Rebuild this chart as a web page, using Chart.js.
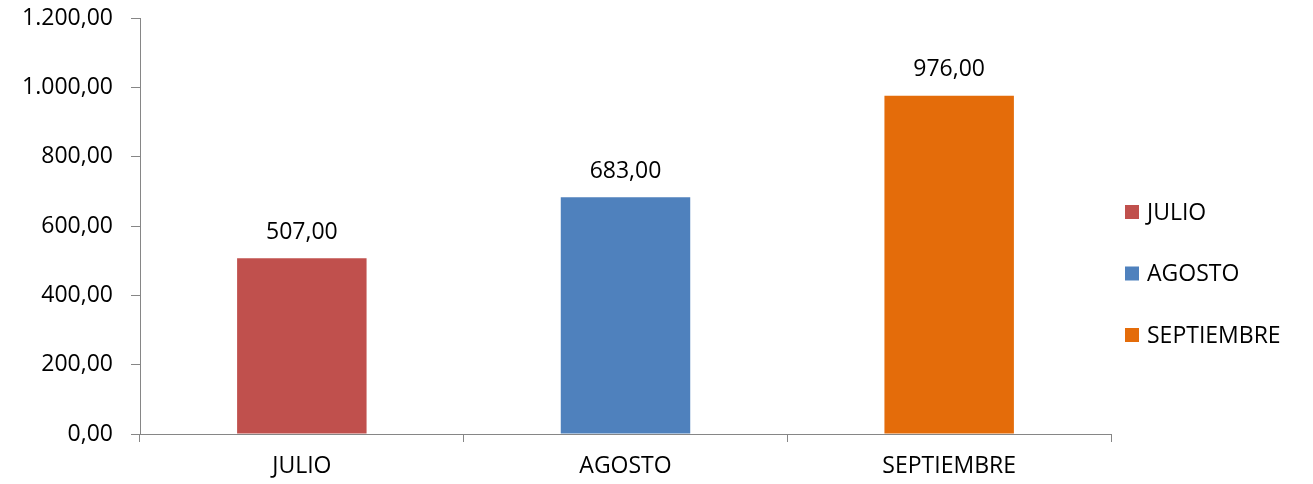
<!DOCTYPE html>
<html lang="es">
<head>
    <meta charset="UTF-8">
    <title>Julio - Septiembre</title>
    <script src="https://cdn.jsdelivr.net/npm/chart.js"></script>
    <style>
        body {
            margin: 0;
            background: #fff;
        }

        #wrap {
            width: 1313px;
            height: 484px;
        }
    </style>
</head>
<body>
    <div id="wrap">
        <canvas id="chart" width="1313" height="484"></canvas>
    </div>

    <script>
    // Datos del grafico
    const meses = ['JULIO', 'AGOSTO', 'SEPTIEMBRE'];
    const valores = [507, 683, 976];
    const colores = ['#C0504D', '#4F81BD', '#E46C0A'];
    const yMin = 0;
    const yMax = 1200;
    const yPaso = 200;

    const fuente = { family: '"Open Sans", sans-serif', size: 23 };
    const gris = '#868686';

    function formato(v) {
        return v.toLocaleString('de-DE', { minimumFractionDigits: 2, maximumFractionDigits: 2 });
    }

    // Etiquetas de valor encima de cada barra
    const etiquetasValor = {
        id: 'etiquetasValor',
        afterDatasetsDraw(chart) {
            const ctx = chart.ctx;
            const meta = chart.getDatasetMeta(0);
            ctx.save();
            ctx.font = fuente.size + 'px ' + fuente.family;
            ctx.fillStyle = '#000';
            ctx.textAlign = 'center';
            ctx.textBaseline = 'middle';
            meta.data.forEach(function(bar, i) {
                ctx.fillText(formato(valores[i]), bar.x, bar.y - 26);
            });
            ctx.restore();
        }
    };

    // Leyenda a la derecha (un cuadro por mes)
    const leyenda = {
        id: 'leyenda',
        afterDraw(chart) {
            const ctx = chart.ctx;
            const x = chart.chartArea.right + 14;
            const y0 = 212;
            const paso = 61.5;
            ctx.save();
            ctx.font = fuente.size + 'px ' + fuente.family;
            ctx.textAlign = 'left';
            ctx.textBaseline = 'middle';
            meses.forEach(function(m, i) {
                const y = y0 + i * paso;
                ctx.fillStyle = colores[i];
                ctx.fillRect(x, y - 7, 14, 14);
                ctx.fillStyle = '#000';
                ctx.fillText(m, x + 22, y + 1);
            });
            ctx.restore();
        }
    };

    const config = {
        type: 'bar',
        data: {
            labels: meses,
            datasets: [{
                label: 'Total',
                data: valores,
                backgroundColor: colores,
                borderWidth: 0,
                barPercentage: 0.4,
                categoryPercentage: 1.0
            }]
        },
        options: {
            responsive: false,
            animation: false,
            layout: {
                padding: { top: 18, right: 202, bottom: 0, left: 0 }
            },
            plugins: {
                legend: { display: false },
                tooltip: { enabled: false }
            },
            scales: {
                x: {
                    grid: {
                        display: true,
                        drawOnChartArea: false,
                        drawTicks: true,
                        tickLength: 8,
                        color: gris,
                        offset: true
                    },
                    border: { display: true, color: gris, width: 1 },
                    ticks: {
                        color: '#000',
                        font: fuente,
                        padding: 11,
                        maxRotation: 0
                    },
                    afterFit(scale) {
                        scale.height = 50;
                        scale.paddingLeft = 0;
                        scale.paddingRight = 0;
                    }
                },
                y: {
                    min: yMin,
                    max: yMax,
                    grid: {
                        display: true,
                        drawOnChartArea: false,
                        drawTicks: true,
                        tickLength: 9,
                        color: gris
                    },
                    border: { display: true, color: gris, width: 1 },
                    ticks: {
                        stepSize: yPaso,
                        color: '#000',
                        font: fuente,
                        padding: 18,
                        callback: function(v) { return formato(v); }
                    },
                    afterFit(scale) {
                        scale.width = 140;
                        scale.paddingTop = 0;
                        scale.paddingBottom = 0;
                    }
                }
            }
        },
        plugins: [etiquetasValor, leyenda]
    };

    new Chart(document.getElementById('chart').getContext('2d'), config);
    </script>
</body>
</html>
